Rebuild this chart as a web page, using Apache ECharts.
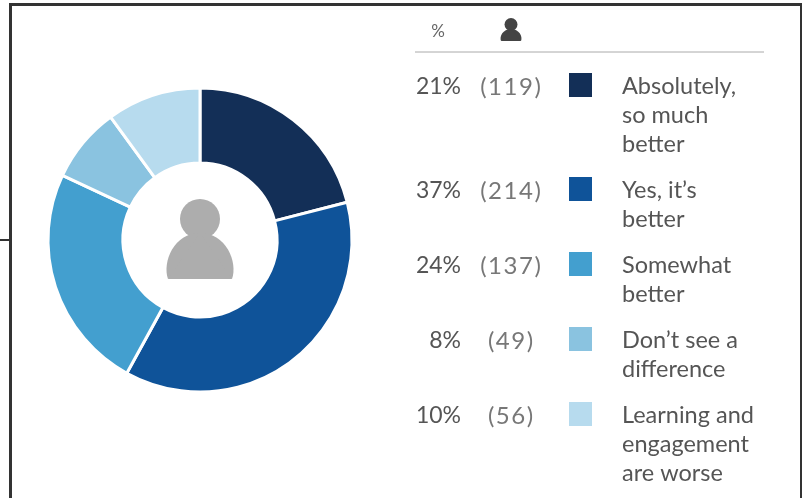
<!DOCTYPE html>
<html>
<head>
<meta charset="utf-8">
<style>
  html, body { margin: 0; padding: 0; background: #fff; }
  #chart { width: 802px; height: 498px; }
</style>
<script src="https://cdn.jsdelivr.net/npm/echarts@6/dist/echarts.min.js"></script>
</head>
<body>
<div id="chart"></div>
<script>
var categories = [
    ['Absolutely,', 'so much', 'better'],
    ['Yes, it\u2019s', 'better'],
    ['Somewhat', 'better'],
    ['Don\u2019t see a', 'difference'],
    ['Learning and', 'engagement', 'are worse']
];
var percents = [21, 37, 24, 8, 10];
var counts = [119, 214, 137, 49, 56];
var colors = ['#132f57', '#0f5399', '#439fcf', '#8ac3e0', '#b7dbee'];
var rowY = [87, 191, 266, 341, 416];

var font = 'Lato, sans-serif';
var textColor = '#555555';

// person icon: round head, domed body
function person(cx, headY, headR, topY, bottomY, halfW, fill) {
    var k = halfW / 32, sh = bottomY - topY;
    return [
        {type: 'circle', z: 10, shape: {cx: cx, cy: headY, r: headR}, style: {fill: fill}},
        {type: 'polygon', z: 10, shape: {points: [[cx - halfW, bottomY], [cx - 25 * k, bottomY - sh * 0.63], [cx, topY], [cx + 25 * k, bottomY - sh * 0.63], [cx + halfW, bottomY]]}, style: {fill: fill}},
        {type: 'bezierCurve', z: 10, shape: {x1: cx - halfW, y1: bottomY, x2: cx, y2: topY, cpx1: cx - 38 * k, cpy1: bottomY - sh * 0.37, cpx2: cx - 26 * k, cpy2: topY}, style: {fill: fill, stroke: null}},
        {type: 'bezierCurve', z: 10, shape: {x1: cx + halfW, y1: bottomY, x2: cx, y2: topY, cpx1: cx + 38 * k, cpy1: bottomY - sh * 0.37, cpx2: cx + 26 * k, cpy2: topY}, style: {fill: fill, stroke: null}}
    ];
}

var graphics = [
    // frame
    {type: 'line', shape: {x1: 9, y1: 4.5, x2: 802, y2: 4.5}, style: {stroke: '#333', lineWidth: 3}},
    {type: 'line', shape: {x1: 10.5, y1: 3, x2: 10.5, y2: 498}, style: {stroke: '#333', lineWidth: 3}},
    {type: 'line', shape: {x1: 801, y1: 3, x2: 801, y2: 498}, style: {stroke: '#333', lineWidth: 2}},
    {type: 'line', shape: {x1: 0, y1: 240, x2: 10, y2: 240}, style: {stroke: '#333', lineWidth: 2}},
    // header
    {type: 'text', x: 438, y: 32, style: {text: '%', font: '17px ' + font, fill: '#666', align: 'center', verticalAlign: 'middle'}},
    {type: 'line', shape: {x1: 415, y1: 52, x2: 764, y2: 52}, style: {stroke: '#aaa', lineWidth: 1}}
].concat(
    person(511, 24.5, 6.5, 29, 41, 10, '#444'),
    person(200, 219, 20, 233, 279, 32, '#adadad')
);

categories.forEach(function (lines, i) {
    graphics.push({type: 'text', x: 461, y: rowY[i], style: {
        text: percents[i] + '%', font: '23px ' + font, fill: textColor, align: 'right', verticalAlign: 'middle'
    }});
    graphics.push({type: 'text', x: 510.5, y: rowY[i], style: {
        text: ('(' + counts[i] + ')').split('').join('\u200a'), font: '24px ' + font, fill: '#777', align: 'center', verticalAlign: 'middle'
    }});
    graphics.push({type: 'rect', shape: {x: 569, y: rowY[i] - 14, width: 23, height: 24}, style: {fill: colors[i]}});
    lines.forEach(function (line, j) {
        graphics.push({type: 'text', x: 622, y: rowY[i] - 1 + j * 29, style: {
            text: line, font: '23.5px ' + font, fill: textColor, align: 'left', verticalAlign: 'middle'
        }});
    });
});

var chart = echarts.init(document.getElementById('chart'));
chart.setOption({
    animation: false,
    backgroundColor: '#ffffff',
    color: colors,
    series: [{
        type: 'pie',
        center: [200, 240],
        radius: [77, 152],
        startAngle: 90,
        clockwise: true,
        label: {show: false},
        labelLine: {show: false},
        itemStyle: {borderColor: '#fff', borderWidth: 3},
        data: percents.map(function (v, i) {
            return {value: v, name: categories[i].join(' ')};
        })
    }],
    graphic: graphics
});
</script>
</body>
</html>
